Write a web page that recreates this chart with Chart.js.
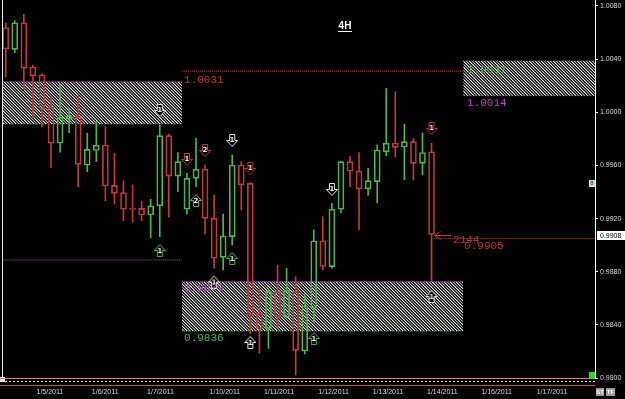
<!DOCTYPE html>
<html>
<head>
<meta charset="utf-8">
<script src="https://cdn.jsdelivr.net/npm/chart.js@4.4.1/dist/chart.umd.min.js"></script>
<style>
html,body{margin:0;padding:0;background:#000;overflow:hidden;}
canvas{display:block;}
</style>
</head>
<body>
<canvas id="chart" width="625" height="399"></canvas>
<script>
// ---------------- data ----------------
const opens  = [1.00638,1.00474,1.00674,1.00341,1.00281,1.00040,0.99767,0.99947,0.99967,0.99601,0.99712,0.99754,0.99450,0.99395,0.99277,0.99277,0.99227,0.99295,0.99824,0.99520,0.99270,0.99503,0.99571,0.99202,0.98908,0.99064,0.99603,0.99465,0.98487,0.98374,0.98650,0.98459,0.98655,0.98203,0.98527,0.99033,0.98838,0.99270,0.99628,0.99556,0.99423,0.99478,0.99703,0.99769,0.99739,0.99779,0.99615,0.99703];
const highs  = [1.00672,1.00689,1.00740,1.00356,1.00290,1.00117,1.00213,1.00032,1.00123,0.99842,0.99929,0.99892,0.99691,0.99485,0.99453,0.99332,0.99345,0.99904,0.99837,0.99696,0.99541,0.99804,0.99603,0.99377,0.99234,0.99678,0.99628,0.99470,0.98677,0.98670,0.98851,0.98826,0.98762,0.98632,0.99114,0.99214,0.99315,0.99633,0.99666,0.99696,0.99578,0.99754,1.00181,1.00155,0.99910,0.99804,0.99844,0.99767];
const lows   = [1.00266,1.00449,1.00168,0.99957,0.99887,0.99583,0.99699,0.99846,0.99440,0.99553,0.99630,0.99334,0.99310,0.99184,0.99174,0.99184,0.99056,0.99064,0.99210,0.99402,0.99234,0.99440,0.99084,0.98826,0.98813,0.99001,0.99265,0.98336,0.98186,0.98224,0.98376,0.98452,0.98023,0.98181,0.98414,0.98813,0.98826,0.99244,0.99440,0.99114,0.99377,0.99319,0.99673,0.99663,0.99493,0.99490,0.99528,0.98725];
const closes = [1.00476,1.00674,1.00331,1.00275,1.00021,0.99767,0.99962,0.99974,0.99608,0.99721,0.99752,0.99445,0.99390,0.99270,0.99268,0.99227,0.99295,0.99824,0.99520,0.99628,0.99503,0.99571,0.99202,0.98901,0.99069,0.99603,0.99453,0.98474,0.98374,0.98650,0.98461,0.98659,0.98208,0.98542,0.99033,0.98839,0.99270,0.99628,0.99556,0.99423,0.99485,0.99716,0.99767,0.99736,0.99779,0.99616,0.99697,0.99080];

const priceTicks = [0.9800,0.9840,0.9880,0.9920,0.9960,1.0000,1.0040,1.0080];
const dayTickPos = [3.4,9.5,15.6,22.5,28.5,34.5,40.5,46.5,52.5,58.6];
const dayLabels  = ['1/5/2011','1/6/2011','1/7/2011','1/10/2011','1/11/2011','1/12/2011','1/13/2011','1/14/2011','1/16/2011','1/17/2011'];

const zoneFrom = [-1, 50.5, 19.46];
const zoneTo   = [19.46, 66, 50.5];
const zoneHigh = [1.00230, 1.00386, 0.98725];
const zoneLow  = [0.99912, 1.00125, 0.98354];

const levelPrice = [1.0031, 0.98888, 0.9905];
const levelFrom  = [19.46, -1, 47.3];
const levelTo    = [50.5, 19.46, 66];

const arrowIdx   = [17,17,20,22,21,23,25,25,27,27,34,36,47,47];
const arrowPrice = [1.00010,0.98963,0.99641,0.99709,0.99340,0.98726,0.99784,0.98903,0.99573,0.98271,0.98301,0.99415,0.99874,0.98617];
const arrowDir   = ['down','up','down','down','up','up','down','up','down','up','up','down','down','up'];
const arrowKind  = ['white','green','red','red','green','white','white','green','red','white','green','white','red','white'];
const arrowNum   = ['1','1','1','2','2','1','1','1','1','1','1','1','1','1'];

const labelText  = ['1.0031','1.0037','1.0014','0.9873','0.9836','2144','0.9905'];
const labelX     = [19.68,50.92,50.92,19.68,19.68,49.37,50.59];
const labelPrice = [1.00243,1.00318,1.00070,0.98677,0.98301,0.99039,0.98994];
const labelKind  = ['red','green','purple','purple','green','red','red'];

// ---------------- styles ----------------
const C = {up:'#46b946', down:'#c83737', white:'#e6e6e6', green:'#46b946', red:'#c23434', purple:'#b146c2', axis:'#d6d6d6'};
const zoneEdge = [['purple','green'],['green','purple'],['purple','green']];
const levelKind = ['red','purple','red'];

const canvas = document.getElementById('chart');
const ctx0 = canvas.getContext('2d');

function makeHatch(){
  const t = document.createElement('canvas'); t.width = 6; t.height = 6;
  const g = t.getContext('2d'); const im = g.createImageData(6,6);
  const shade = [245, 105, 0, 170, 70, 0];
  for (let yy=0; yy<6; yy++) for (let xx=0; xx<6; xx++){
    const m = ((xx-yy)%6+6)%6, k = (yy*6+xx)*4, v = shade[m];
    if (v > 0){ im.data[k]=v; im.data[k+1]=v; im.data[k+2]=v; im.data[k+3]=255; }
  }
  g.putImageData(im,0,0);
  return ctx0.createPattern(t,'repeat');
}
const hatch = makeHatch();

function makeArrow(dir, color, num){
  const c = document.createElement('canvas'); c.width = 12; c.height = 14;
  const g = c.getContext('2d');
  g.save();
  if (dir === 'up'){ g.translate(0,14); g.scale(1,-1); }
  g.beginPath();
  g.moveTo(3.5,0.5); g.lineTo(8.5,0.5); g.lineTo(8.5,6.5); g.lineTo(11.5,6.5);
  g.lineTo(6,12.5); g.lineTo(0.5,6.5); g.lineTo(3.5,6.5); g.closePath();
  g.fillStyle = '#000'; g.fill();
  g.strokeStyle = color; g.lineWidth = 1; g.stroke();
  g.restore();
  g.fillStyle = '#f2f2f2'; g.font = 'bold 7px "DejaVu Sans"';
  g.textAlign = 'center'; g.textBaseline = 'middle';
  g.fillText(num, 6, dir === 'up' ? 8 : 6);
  return c;
}

// ---------------- datasets ----------------
const idx = opens.map((_, i) => i);
const candleColors = idx.map(i => closes[i] >= opens[i] ? C.up : C.down);
const datasets = [];

zoneFrom.forEach((_, z) => {
  datasets.push({type:'line', data:[{x:zoneFrom[z], y:zoneHigh[z]},{x:zoneTo[z], y:zoneHigh[z]}],
    borderColor:C[zoneEdge[z][0]], borderWidth:1, borderDash:[1,1], pointRadius:0,
    fill:'+1', backgroundColor:hatch, order:10});
  datasets.push({type:'line', data:[{x:zoneFrom[z], y:zoneLow[z]},{x:zoneTo[z], y:zoneLow[z]}],
    borderColor:C[zoneEdge[z][1]], borderWidth:1, borderDash:[1,1], pointRadius:0,
    fill:false, order:10});
});

levelPrice.forEach((p, l) => {
  datasets.push({type:'line', data:[{x:levelFrom[l], y:p},{x:levelTo[l], y:p}],
    borderColor:C[levelKind[l]], borderWidth:1, borderDash:[1,1], pointRadius:0, fill:false, order:9});
});

datasets.push({type:'bar', data: idx.map(i => ({x:i, y:[Math.max(opens[i],closes[i]), highs[i]]})),
  backgroundColor:candleColors, borderWidth:0, barThickness:1, order:3});
datasets.push({type:'bar', data: idx.map(i => ({x:i, y:[lows[i], Math.min(opens[i],closes[i])]})),
  backgroundColor:candleColors, borderWidth:0, barThickness:1, order:3});
datasets.push({type:'bar', data: idx.map(i => ({x:i, y:[Math.min(opens[i],closes[i]), Math.max(opens[i],closes[i])]})),
  backgroundColor:'rgba(0,0,0,0)', borderColor:candleColors, borderWidth:1, borderSkipped:false, barThickness:6, order:2});

datasets.push({type:'scatter', data: arrowIdx.map((a, k) => ({x:a, y:arrowPrice[k]})),
  pointStyle: arrowIdx.map((_, k) => makeArrow(arrowDir[k], C[arrowKind[k]], arrowNum[k])),
  pointRadius:7, order:1});

// ---------------- decorations ----------------
const extras = {
  id:'extras',
  beforeDraw(chart){
    const c = chart.ctx; c.save(); c.fillStyle = '#000'; c.fillRect(0,0,chart.width,chart.height); c.restore();
  },
  afterDraw(chart){
    const {ctx, chartArea:a, scales:{x, y}} = chart;
    ctx.save();
    // left border
    ctx.strokeStyle = '#e8e8e8'; ctx.lineWidth = 1;
    ctx.beginPath(); ctx.moveTo(2.5,0); ctx.lineTo(2.5,a.bottom+1); ctx.stroke();
    ctx.fillStyle = '#e8e8e8'; ctx.fillRect(0,a.bottom-1,5,5);
    // indicator strip
    ctx.strokeStyle = '#cf7a7a';
    ctx.beginPath(); ctx.moveTo(0,a.bottom+0.5); ctx.lineTo(a.right,a.bottom+0.5); ctx.stroke();
    ctx.strokeStyle = '#d8d8d8'; ctx.setLineDash([2,2]);
    ctx.beginPath(); ctx.moveTo(5,a.bottom+3.5); ctx.lineTo(a.right,a.bottom+3.5); ctx.stroke();
    ctx.setLineDash([]); ctx.strokeStyle = '#b85050';
    ctx.beginPath(); ctx.moveTo(0,a.bottom+7.5); ctx.lineTo(a.right,a.bottom+7.5); ctx.stroke();
    // green square and small icon near axis
    ctx.fillStyle = '#19e619'; ctx.fillRect(a.right-6, a.bottom-6, 6, 6);
    ctx.fillStyle = '#c8e8c8'; ctx.fillRect(a.right-6, 180, 6, 7);
    ctx.fillStyle = '#222'; ctx.font = '6px "Liberation Sans"'; ctx.textAlign='center'; ctx.textBaseline='middle';
    ctx.fillText('8', a.right-3, 183.8);
    // ST / TF buttons
    ctx.fillStyle = '#9a9a9a'; ctx.fillRect(596, 388, 8, 8); ctx.fillRect(606, 388, 9, 8);
    ctx.fillStyle = '#fff'; ctx.font = 'bold 6px "Liberation Sans"';
    ctx.fillText('ST', 600, 392.3); ctx.fillText('TF', 610.5, 392.3);
    // zone / level labels
    ctx.font = '11px "Liberation Mono"'; ctx.textAlign = 'left'; ctx.textBaseline = 'middle';
    labelText.forEach((t, i) => {
      ctx.fillStyle = C[labelKind[i]];
      ctx.fillText(t, x.getPixelForValue(labelX[i]), y.getPixelForValue(labelPrice[i]));
    });
    // last price pointer
    const last = closes.length - 1;
    const px = x.getPixelForValue(last) + 3;
    const py = Math.round(y.getPixelForValue(closes[last])) + 0.5;
    ctx.strokeStyle = C.red; ctx.lineWidth = 1;
    ctx.beginPath(); ctx.moveTo(px,py); ctx.lineTo(px+17,py);
    ctx.moveTo(px+6,py-4); ctx.lineTo(px,py); ctx.lineTo(px+6,py+4); ctx.stroke();
    // price box
    ctx.fillStyle = '#fff'; ctx.fillRect(a.right+2, py-4.5, 28, 9);
    ctx.fillStyle = '#000'; ctx.font = '7px "Liberation Sans"';
    ctx.fillText(closes[last].toFixed(4), a.right+5, py+0.5);
    // title
    ctx.fillStyle = '#fff'; ctx.font = 'bold 10px "Liberation Sans"'; ctx.textAlign = 'center';
    ctx.fillText('4H', 345, 26);
    ctx.fillRect(338, 31, 14, 1);
    ctx.restore();
  }
};

new Chart(canvas, {
  type:'bar',
  data:{datasets},
  plugins:[extras],
  options:{
    responsive:false, animation:false, events:[], devicePixelRatio:1,
    layout:{autoPadding:false, padding:{left:3, right:0, top:0, bottom:0}},
    plugins:{legend:{display:false}, tooltip:{enabled:false}, title:{display:false}},
    datasets:{bar:{grouped:false}},
    scales:{
      x:{type:'linear', min:-0.3, max:65.04, offset:false, bounds:'data', position:'bottom',
        afterBuildTicks(s){ s.ticks = dayTickPos.map(v => ({value:v})); },
        afterFit(s){ s.height = 21; s.paddingLeft = 0; s.paddingRight = 0; },
        ticks:{autoSkip:false, maxRotation:0, minRotation:0, align:'start', padding:2, color:C.axis,
          font:{family:'Liberation Sans', size:7}, callback:(v, i) => dayLabels[i]},
        grid:{display:true, drawOnChartArea:false, drawTicks:true, tickLength:8, color:'rgba(0,0,0,0)'},
        border:{display:false}},
      y:{type:'linear', position:'right', min:0.98, max:1.008451, bounds:'data',
        afterBuildTicks(s){ s.ticks = priceTicks.map(v => ({value:v})); },
        afterFit(s){ s.width = 30; s.paddingTop = 0; s.paddingBottom = 0; },
        ticks:{autoSkip:false, padding:2, color:C.axis, font:{family:'Liberation Sans', size:7},
          callback:v => Number(v).toFixed(4)},
        grid:{drawOnChartArea:false, drawTicks:true, tickLength:3, color:'#ffffff'},
        border:{display:true, color:'#ffffff', width:1}}
    }
  }
});
</script>
</body>
</html>
